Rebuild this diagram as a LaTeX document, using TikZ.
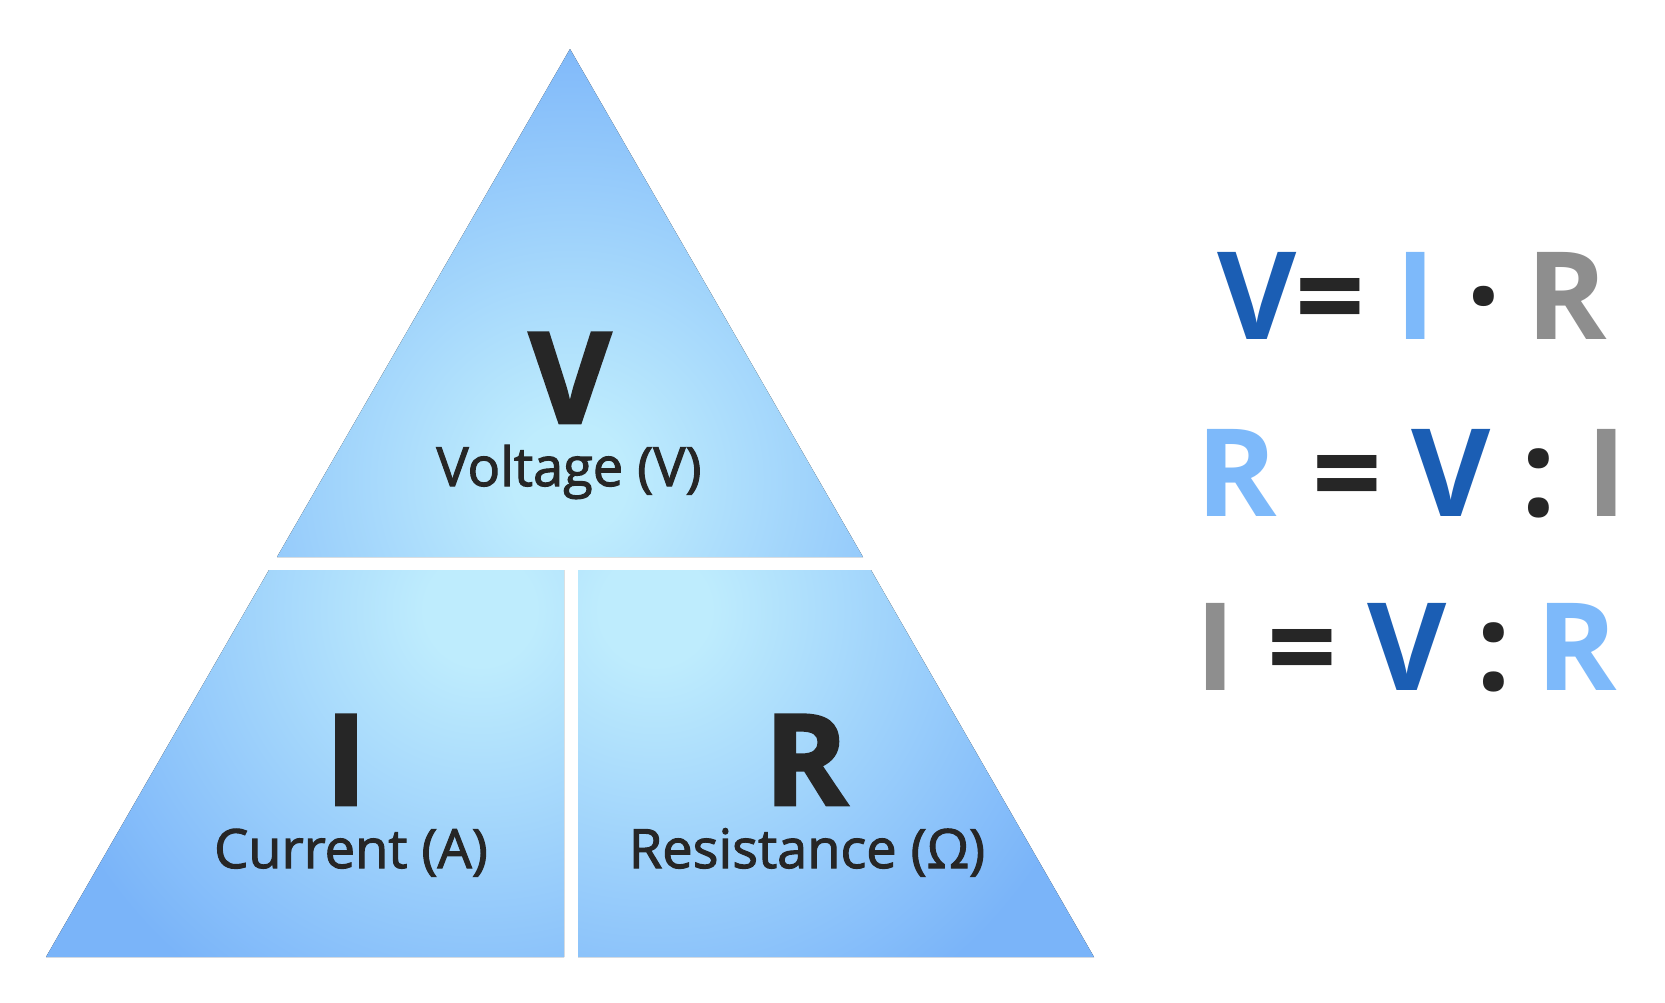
\documentclass[tikz,border=0pt]{standalone}
\usepackage{fontspec}
\setmainfont{Open Sans}
\newfontfamily\labelfont{Open Sans}[FakeBold=2]
\newfontfamily\heavyfont{Open Sans}[BoldFeatures={FakeBold=2}]
\usepackage{tikz}
\usetikzlibrary{calc}
\usetikzlibrary{positioning}
\definecolor{ink}{RGB}{38,38,38}
\definecolor{darkblue}{RGB}{27,94,180}
\definecolor{lightblue}{RGB}{125,185,250}
\definecolor{midgray}{RGB}{142,142,142}
\definecolor{triin}{RGB}{190,236,253}
\definecolor{triout}{RGB}{122,180,249}
\pgfdeclareradialshading{tri}{\pgfpoint{0bp}{0bp}}{color(0bp)=(triin); color(3bp)=(triin); color(25bp)=(triout); color(50bp)=(triout)}

\begin{document}
\begin{tikzpicture}[x=0.01cm,y=-0.01cm,
  big/.style={font=\fontsize{36pt}{40pt}\selectfont\heavyfont\bfseries, text=ink, anchor=base, inner sep=0pt},
  caption/.style={font=\fontsize{15.4pt}{18pt}\selectfont\labelfont, text=ink, anchor=base, inner sep=0pt},
  eq/.style={font=\fontsize{34.7pt}{40pt}\selectfont\bfseries, anchor=base, inner sep=0pt}]

\fill[white] (0,0) rectangle (1665,1002);
\useasboundingbox (0,0) rectangle (1665,1002);

% top piece
\begin{scope}
\clip (570,49) -- (863,557) -- (277,557) -- cycle;
\fill[shading=tri] (100,10) rectangle (1040,950);
\end{scope}
% lower left piece
\begin{scope}
\clip (269,570) -- (564,570) -- (564,957) -- (46,957) -- cycle;
\fill[shading=tri] (20,150) rectangle (940,1070);
\end{scope}
% lower right piece
\begin{scope}
\clip (578,570) -- (871,570) -- (1094,957) -- (578,957) -- cycle;
\fill[shading=tri] (195,150) rectangle (1115,1070);
\end{scope}

\node[big] (volt) at (570,423) {V};
\node[caption] (voltlabel) at (569,486) {Voltage (V)};
\node[big] (curr) at (346,805) {I};
\node[caption] (currlabel) at (351,868) {Current (A)};
\node[big] (res) at (806,805) {R};
\node[caption] (reslabel) at (807,868) {Resistance (Ω)};

% V = I * R
\foreach \x/\t/\c [count=\i] in {1257/V/darkblue, 1330/=/ink, 1416/I/lightblue, 1484/·/ink, 1567/R/midgray}
  \node[eq,text=\c] (eqa\i) at (\x,339) {\t};
% R = V : I
\foreach \x/\t/\c [count=\i] in {1237/R/lightblue, 1347/=/ink, 1451/V/darkblue, 1539/:/ink, 1607/I/midgray}
  \node[eq,text=\c] (eqb\i) at (\x,516) {\t};
% I = V : R
\foreach \x/\t/\c [count=\i] in {1216/I/midgray, 1302/=/ink, 1407/V/darkblue, 1494/:/ink, 1577/R/lightblue}
  \node[eq,text=\c] (eqc\i) at (\x,690) {\t};
\end{tikzpicture}
\end{document}
